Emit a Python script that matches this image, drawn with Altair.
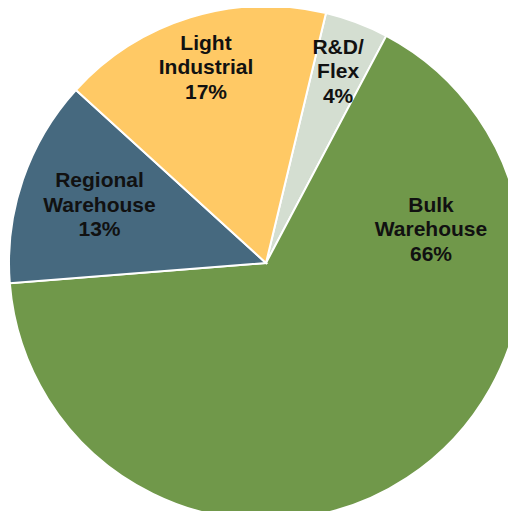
import altair as alt
import pandas as pd

categories = ["R&D/Flex", "Bulk Warehouse", "Regional Warehouse", "Light Industrial"]
label_lines = [["R&D/", "Flex"], ["Bulk", "Warehouse"], ["Regional", "Warehouse"], ["Light", "Industrial"]]
shares = [4, 66, 13, 17]
colors = ["#D4DED1", "#70984A", "#46697F", "#FFC965"]

df = pd.DataFrame({
    "category": categories,
    "value": shares,
    "order": list(range(len(categories))),
    "label": [lines + [f"{v}%"] for lines, v in zip(label_lines, shares)],
})

start_angle = 0.2356  # radians, first slice begins slightly right of 12 o'clock
CX, CY, R = 258, 255, 257
LH = 24.5

base = alt.Chart(df).transform_window(
    end="sum(value)", sort=[alt.SortField("order")], frame=[None, 0]
).transform_calculate(
    start="datum.end - datum.value",
    mid="datum.end - datum.value / 2",
)

theta_scale = alt.Scale(domain=[0, sum(shares)], range=[start_angle, start_angle + 6.283185307])

arcs = base.mark_arc(radius=R, stroke="white", strokeWidth=2).encode(
    x=alt.value(CX),
    y=alt.value(CY),
    theta=alt.Theta("start:Q", scale=theta_scale),
    theta2="end:Q",
    color=alt.Color("category:N", scale=alt.Scale(domain=categories, range=colors), legend=None),
)

label_place = {
    "R&D/Flex": dict(radius=204, dy=-LH),
    "Light Industrial": dict(radius=204, dy=-LH),
    "Regional Warehouse": dict(radius=176, dy=-LH),
    "Bulk Warehouse": dict(radius=0, dx=165, dy=-33 - LH),
}

layers = [arcs]
for cat, place in label_place.items():
    layers.append(
        base.transform_filter(alt.datum.category == cat).mark_text(
            font="Liberation Sans", fontWeight="bold", fontSize=21, lineHeight=LH,
            color="#111111", align="center", baseline="middle", **place
        ).encode(
            x=alt.value(CX),
            y=alt.value(CY),
            theta=alt.Theta("mid:Q", scale=theta_scale),
            text="label",
        )
    )

chart = alt.layer(*layers).properties(
    width=500, height=503, padding=0, autosize="none", background="white"
).configure_view(stroke=None)

chart.save("out.html", embed_options={"renderer": "svg", "actions": False})
